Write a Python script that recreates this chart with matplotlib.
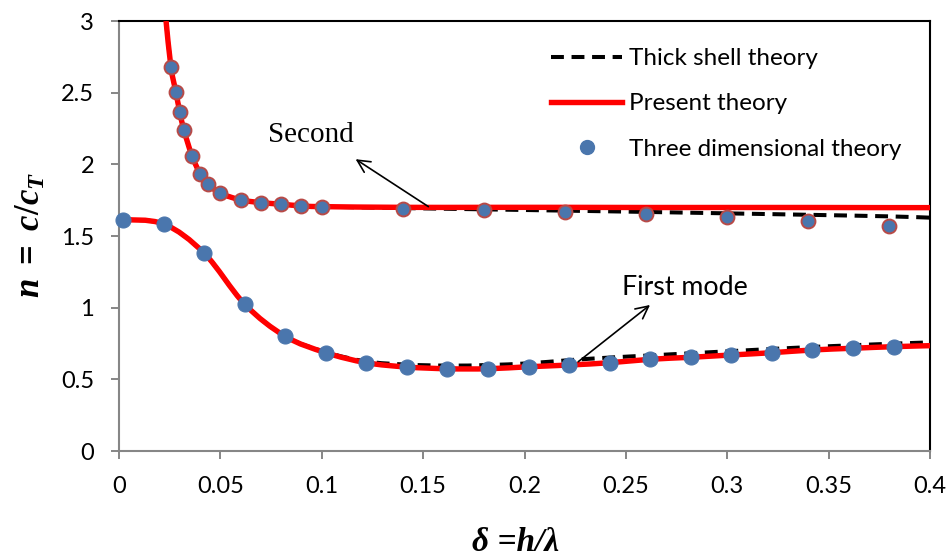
import matplotlib
matplotlib.use("Agg")
import matplotlib.pyplot as plt
import numpy as np
from matplotlib.lines import Line2D
from matplotlib.patches import PathPatch
from matplotlib.path import Path

# ── Data ──────────────────────────────────────────────────────────────
# Present theory, first mode
pt1_x = [0.0, 0.022, 0.042, 0.062, 0.082, 0.102, 0.122, 0.142, 0.162, 0.182, 0.202,
         0.222, 0.242, 0.262, 0.282, 0.302, 0.322, 0.342, 0.362, 0.382, 0.40]
pt1_y = [1.615, 1.584, 1.38, 1.024, 0.80, 0.686, 0.616, 0.586, 0.574, 0.574, 0.588,
         0.600, 0.616, 0.64, 0.654, 0.67, 0.686, 0.705, 0.717, 0.728, 0.735]

# Thick shell theory, first mode
ts1_x = pt1_x
ts1_y = [1.615, 1.584, 1.38, 1.024, 0.80, 0.69, 0.625, 0.603, 0.596, 0.600, 0.612,
         0.634, 0.652, 0.667, 0.682, 0.697, 0.712, 0.726, 0.738, 0.749, 0.758]

# Present theory, second mode
pt2_x = [0.0232, 0.0256, 0.028, 0.030, 0.032, 0.036, 0.040, 0.044, 0.050, 0.06, 0.07,
         0.08, 0.09, 0.10, 0.14, 0.18, 0.22, 0.26, 0.30, 0.34, 0.38, 0.40]
pt2_y = [3.0, 2.68, 2.507, 2.364, 2.24, 2.059, 1.935, 1.861, 1.798, 1.752, 1.733,
         1.722, 1.71, 1.705, 1.70, 1.70, 1.70, 1.699, 1.699, 1.699, 1.698, 1.698]

# Thick shell theory, second mode
ts2_x = pt2_x
ts2_y = [3.0, 2.68, 2.507, 2.364, 2.24, 2.059, 1.935, 1.861, 1.798, 1.752, 1.733,
         1.722, 1.71, 1.705, 1.695, 1.686, 1.677, 1.668, 1.658, 1.648, 1.637, 1.628]

# Three dimensional theory
td1_x = [0.002, 0.022, 0.042, 0.062, 0.082, 0.102, 0.122, 0.142, 0.162, 0.182,
         0.202, 0.222, 0.242, 0.262, 0.282, 0.302, 0.322, 0.342, 0.362, 0.382]
td1_y = [1.612, 1.584, 1.38, 1.024, 0.80, 0.686, 0.616, 0.586, 0.574, 0.574,
         0.588, 0.600, 0.616, 0.64, 0.654, 0.67, 0.686, 0.705, 0.717, 0.728]
td2_x = [0.0256, 0.028, 0.030, 0.032, 0.036, 0.040, 0.044, 0.050, 0.06, 0.07,
         0.08, 0.09, 0.10, 0.14, 0.18, 0.22, 0.26, 0.30, 0.34, 0.38]
td2_y = [2.68, 2.507, 2.364, 2.24, 2.059, 1.935, 1.861, 1.798, 1.752, 1.733,
         1.724, 1.71, 1.705, 1.689, 1.682, 1.67, 1.654, 1.635, 1.607, 1.572]

x_ticks = [0, 0.05, 0.1, 0.15, 0.2, 0.25, 0.3, 0.35, 0.4]
x_ticklabels = ["0", "0.05", "0.1", "0.15", "0.2", "0.25", "0.3", "0.35", "0.4"]
y_ticks = [0, 0.5, 1, 1.5, 2, 2.5, 3]
y_ticklabels = ["0", "0.5", "1", "1.5", "2", "2.5", "3"]

RED = "#ff0000"
BLUE = "#4a76ad"
EDGE2 = "#b84a47"
SANS = "Lato"
SERIF = "Liberation Serif"

plt.rcParams["mathtext.fontset"] = "custom"
plt.rcParams["mathtext.rm"] = "Liberation Serif:bold"
plt.rcParams["mathtext.it"] = "Liberation Serif:italic:bold"
plt.rcParams["mathtext.bf"] = "Liberation Serif:italic:bold"


def smooth_path(x, y):
    """Smoothed curve through the points (cubic Bezier, Catmull-Rom style)."""
    pts = np.column_stack([x, y]).astype(float)
    verts = [pts[0]]
    codes = [Path.MOVETO]
    n = len(pts)
    for i in range(n - 1):
        p0 = pts[i - 1] if i > 0 else pts[i]
        p1 = pts[i]
        p2 = pts[i + 1]
        p3 = pts[i + 2] if i + 2 < n else pts[i + 1]
        c1 = p1 + (p2 - p0) / 6.0
        c2 = p2 - (p3 - p1) / 6.0
        verts += [c1, c2, p2]
        codes += [Path.CURVE4] * 3
    return Path(verts, codes)


def add_curve(ax, x, y, **kw):
    patch = PathPatch(smooth_path(x, y), fill=False, **kw)
    ax.add_patch(patch)
    return patch


fig = plt.figure(figsize=(9.49, 5.6), dpi=100)
ax = fig.add_axes([0.1254, 0.1946, 0.8546, 0.7679])

dash = (0, (3.2, 1.9))
for xs, ys in [(ts1_x, ts1_y), (ts2_x, ts2_y)]:
    add_curve(ax, xs, ys, edgecolor="black", linewidth=2.9, linestyle=dash,
              capstyle="butt", zorder=2)
for xs, ys in [(pt1_x, pt1_y), (pt2_x, pt2_y)]:
    add_curve(ax, xs, ys, edgecolor=RED, linewidth=3.9, capstyle="butt", zorder=3)

ax.plot(td1_x, td1_y, "o", ms=10.8, color=BLUE, mec=BLUE, mew=0.8, zorder=4,
        clip_on=False)
ax.plot(td2_x, td2_y, "o", ms=10, color=BLUE, mec=EDGE2, mew=1.4, zorder=4)

# annotations
ax.annotate("", xy=(0.1167, 2.036), xytext=(0.1526, 1.705),
            arrowprops=dict(arrowstyle="->,head_length=0.9,head_width=0.45",
                            color="black", lw=1.2, shrinkA=0, shrinkB=0), zorder=5)
ax.text(0.0737, 2.158, "Second", fontfamily=SERIF, fontsize=21, va="baseline",
        ha="left")
ax.annotate("", xy=(0.2619, 1.019), xytext=(0.2265, 0.623),
            arrowprops=dict(arrowstyle="->,head_length=0.9,head_width=0.45",
                            color="black", lw=1.2, shrinkA=0, shrinkB=0), zorder=5)
ax.text(0.2481, 1.089, "First mode", fontfamily=SANS, fontsize=19.3,
        va="baseline", ha="left")

ax.set_xlim(0, 0.4)
ax.set_ylim(0, 3)
ax.set_xticks(x_ticks)
ax.set_xticklabels(x_ticklabels, fontfamily=SANS, fontsize=17)
ax.set_yticks(y_ticks)
ax.set_yticklabels(y_ticklabels, fontfamily=SANS, fontsize=17)
ax.tick_params(axis="both", direction="out", length=6, width=1.4, color="#868686",
               pad=12, labelcolor="black")

for side in ["left", "bottom"]:
    ax.spines[side].set_color("#868686")
    ax.spines[side].set_linewidth(1.5)
for side in ["top", "right"]:
    ax.spines[side].set_color("black")
    ax.spines[side].set_linewidth(1.5)

handles = [
    Line2D([], [], color="black", lw=2.9, linestyle=(0, (3.2, 1.9))),
    Line2D([], [], color=RED, lw=3.9),
    Line2D([], [], color=BLUE, marker="o", ms=10, linestyle="none"),
]
labels = ["Thick shell theory", "Present theory", "Three dimensional theory"]
ax.legend(handles, labels, loc="upper left", bbox_to_anchor=(0.533, 0.937),
          frameon=False, prop={"family": SANS, "size": 17.5}, handlelength=2.9,
          handletextpad=0.3, labelspacing=1.0, borderaxespad=0, borderpad=0)

fig.text(0.5432, 0.016, "δ =h/λ", fontfamily=SERIF, fontstyle="italic",
         fontweight="bold", fontsize=24, ha="center", va="baseline")
fig.text(0.032, 0.58, r"$n\ =\ c/c_{T}$", fontsize=25, rotation=90,
         ha="center", va="center")

fig.savefig("out.png", dpi=100)
